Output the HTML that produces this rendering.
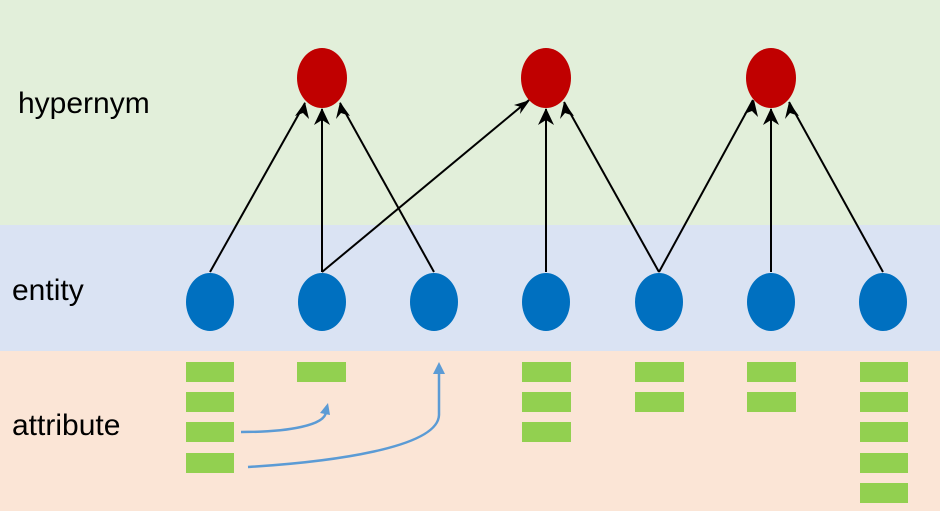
<!DOCTYPE html>
<html><head><style>body{margin:0}svg{display:block}text{font-family:"Liberation Sans",sans-serif;font-size:30px;fill:#000}</style></head><body>
<svg width="940" height="511" viewBox="0 0 940 511" xmlns="http://www.w3.org/2000/svg">
<defs>
<marker id="a" markerWidth="10" markerHeight="10" refX="9" refY="5" orient="auto" markerUnits="userSpaceOnUse"><path d="M0,0 L10,5 L0,10 L3,5 z" fill="#000" transform="scale(1.6) translate(-4,-2)"/></marker>
<marker id="b" markerWidth="14" markerHeight="14" refX="12" refY="6" orient="auto" markerUnits="userSpaceOnUse"><path d="M0,0 L12,6 L0,12 z" fill="#5b9bd5"/></marker>
</defs>
<rect x="0" y="0" width="940" height="225" fill="#e2efda"/>
<rect x="0" y="225" width="940" height="126" fill="#dae3f3"/>
<rect x="0" y="351" width="940" height="160" fill="#fbe5d6"/>
<text x="18" y="113">hypernym</text>
<text x="12" y="300">entity</text>
<text x="12" y="435">attribute</text>
<g stroke="#000" stroke-width="2" fill="none">
<line x1="210" y1="272" x2="305" y2="103"/>
<line x1="322" y1="272" x2="322" y2="109"/>
<line x1="434" y1="272" x2="340" y2="103"/>
<line x1="322" y1="272" x2="529" y2="100"/>
<line x1="546" y1="272" x2="546" y2="109"/>
<line x1="659" y1="272" x2="564" y2="102"/>
<line x1="659" y1="272" x2="753" y2="100"/>
<line x1="771" y1="272" x2="771" y2="109"/>
<line x1="883" y1="272" x2="789" y2="102"/>
</g>
<g fill="#000">
<polygon points="305,102 295,116 303,113 309,119"/>
<polygon points="322,108 314,125 322,120 330,125"/>
<polygon points="340,102 336,119 341,113 350,116"/>
<polygon points="530,100 514,105 521,107 520,114"/>
<polygon points="546,108 538,125 546,120 554,125"/>
<polygon points="564,102 560,119 565,113 574,116"/>
<polygon points="754,100 744,114 752,111 758,117"/>
<polygon points="771,108 763,125 771,120 779,125"/>
<polygon points="789,102 785,119 790,113 799,116"/>
</g>
<g fill="#c00000"><ellipse cx="322" cy="78" rx="25" ry="30"/><ellipse cx="546" cy="78" rx="25" ry="30"/><ellipse cx="771" cy="78" rx="25" ry="30"/></g>
<g fill="#0070c0">
<ellipse cx="210" cy="302" rx="24" ry="29"/><ellipse cx="322" cy="302" rx="24" ry="29"/><ellipse cx="434" cy="302" rx="24" ry="29"/><ellipse cx="546" cy="302" rx="24" ry="29"/><ellipse cx="659" cy="302" rx="24" ry="29"/><ellipse cx="771" cy="302" rx="24" ry="29"/><ellipse cx="883" cy="302" rx="24" ry="29"/>
</g>
<g fill="#92d050">
<rect x="186" y="362" width="48" height="20"/><rect x="186" y="392" width="48" height="20"/><rect x="186" y="422" width="48" height="20"/><rect x="186" y="453" width="48" height="20"/>
<rect x="297" y="362" width="49" height="20"/>
<rect x="522" y="362" width="49" height="20"/><rect x="522" y="392" width="49" height="20"/><rect x="522" y="422" width="49" height="20"/>
<rect x="635" y="362" width="49" height="20"/><rect x="635" y="392" width="49" height="20"/>
<rect x="747" y="362" width="49" height="20"/><rect x="747" y="392" width="49" height="20"/>
<rect x="860" y="362" width="48" height="20"/><rect x="860" y="392" width="48" height="20"/><rect x="860" y="422" width="48" height="20"/><rect x="860" y="453" width="48" height="20"/><rect x="860" y="483" width="48" height="20"/>
</g>
<g stroke="#5b9bd5" stroke-width="2.5" fill="none">
<path d="M241,432 C290,432 325,425 326,412"/>
<path d="M248,467 C330,462 438,448 439,415 L439,372"/>
</g>
<g fill="#5b9bd5">
<polygon points="328,403 320,413 330,415"/>
<polygon points="439,362 433,374 445,374"/>
</g>
</svg>
</body></html>
